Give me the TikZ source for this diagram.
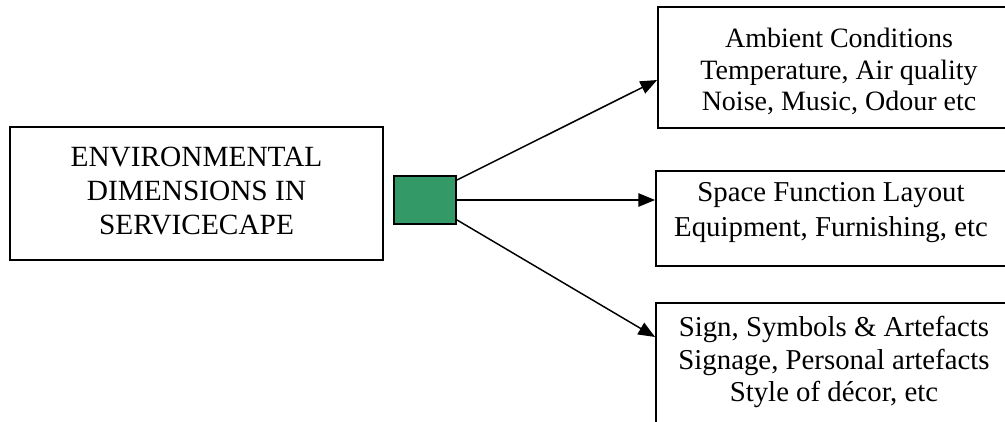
\documentclass[tikz,border=0pt]{standalone}
\usepackage{fontspec}
\setmainfont{Liberation Serif}
\usetikzlibrary{arrows.meta,fit}
\definecolor{boxgreen}{HTML}{339966}
\begin{document}
\begin{tikzpicture}[x=0.75pt,y=-0.75pt,
  box/.style={draw,line width=1.4pt,inner sep=0pt},
  rtxt/.style={align=center,font=\fontsize{21}{23.5}\selectfont,inner sep=0pt,anchor=north},
  rtxtb/.style={align=center,font=\fontsize{21.6}{24.5}\selectfont,inner sep=0pt,anchor=north},
  rtxtm/.style={align=center,font=\fontsize{21.6}{26}\selectfont,inner sep=0pt,anchor=north},
  ltxt/.style={align=center,font=\fontsize{22}{25.5}\selectfont,inner sep=0pt,anchor=north},
  arr/.style={-{Triangle[length=12.5pt,width=10pt]},line width=1.1pt}]
\useasboundingbox (0,0) rectangle (1005,421);
\clip (0,0) rectangle (1005,421);
\fill[white] (0,0) rectangle (1005,421);
% boxes
\node[box,fit={(10,127) (383,260)}] (L) {};
\node[box,fill=boxgreen,fit={(394,176) (456,224)}] (G) {};
\node[box,fit={(658,7) (1018,128)}] (T) {};
\node[box,fit={(656,171) (1010,266)}] (M) {};
\node[box,fit={(656,303) (1015,440)}] (B) {};
% texts
\node[ltxt] (Lt) at (196.5,147) {ENVIRONMENTAL\\DIMENSIONS IN\\SERVICECAPE};
\node[rtxt] (Tt) at (839,28) {Ambient Conditions\\Temperature, Air quality\\Noise, Music, Odour etc};
\node[rtxtm] (Mt) at (831,182) {Space Function Layout\\Equipment, Furnishing, etc};
\node[rtxtb] (Bt) at (834,316) {Sign, Symbols \& Artefacts\\Signage, Personal artefacts\\Style of décor, etc};
% connectors
\coordinate (Te) at ([yshift=-9.4pt]T.west);
\coordinate (Be) at ([yshift=25.9pt]B.west);
\draw[arr] ([yshift=-3.75pt]G.north east) -- (Te);
\draw[arr] (G.east) -- (G.east -| M.west);
\draw[arr] ([yshift=3.75pt]G.south east) -- (Be);
\end{tikzpicture}
\end{document}
